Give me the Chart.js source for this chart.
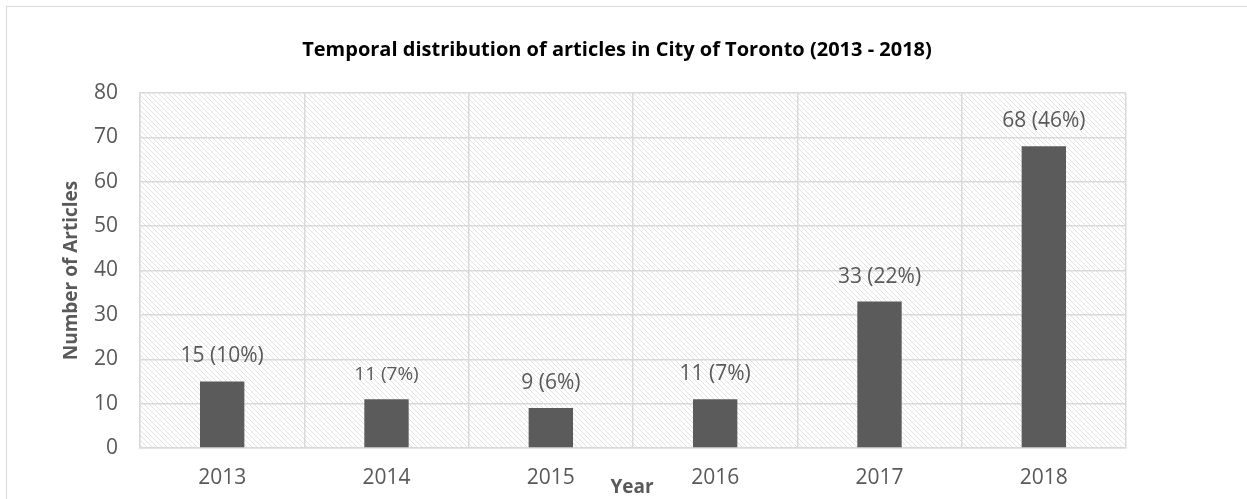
<!DOCTYPE html>
<html>
<head>
<meta charset="utf-8">
<title>Temporal distribution of articles</title>
<script src="https://cdn.jsdelivr.net/npm/chart.js@4/dist/chart.umd.min.js"></script>
<style>
  html, body { margin: 0; padding: 0; background: #fff; overflow: hidden; }
  #wrap { position: relative; width: 1247px; height: 499px; }
  #frame { position: absolute; left: 6px; top: 6px; width: 1260px; height: 520px; border: 1px solid #d9d9d9; box-sizing: border-box; }
  canvas { position: absolute; left: 0; top: 0; }
</style>
</head>
<body>
<div id="wrap">
  <div id="frame"></div>
  <canvas id="chartCanvas" width="1247" height="499"></canvas>
</div>
<script>
// data
const years = ['2013', '2014', '2015', '2016', '2017', '2018'];
const articles = [15, 11, 9, 11, 33, 68];
const yTicks = [0, 10, 20, 30, 40, 50, 60, 70, 80];

const titleText = 'Temporal distribution of articles in City of Toronto (2013 - 2018)';
const FONT = '"Open Sans", "Liberation Sans", sans-serif';
const GRID = '#d9d9d9';
const TEXT = '#595959';

const total = articles.reduce((a, b) => a + b, 0);

// diagonal hatch for the plot background
function makeHatch(){
  const c = document.createElement('canvas');
  c.width = 5; c.height = 5;
  const g = c.getContext('2d');
  g.fillStyle = '#fff';
  g.fillRect(0, 0, 5, 5);
  g.strokeStyle = '#e2e2e2';
  g.lineWidth = 1;
  g.beginPath();
  g.moveTo(-1, -1); g.lineTo(6, 6);
  g.moveTo(-1, 4); g.lineTo(1, 6);
  g.moveTo(4, -1); g.lineTo(6, 1);
  g.stroke();
  return g.createPattern(c, 'repeat');
}

const hatchPlugin = {
  id: 'hatch',
  beforeDraw(chart){
    const {ctx, chartArea: a} = chart;
    ctx.save();
    ctx.fillStyle = makeHatch();
    ctx.fillRect(a.left, a.top, a.right - a.left, a.bottom - a.top);
    ctx.restore();
  }
};

// value labels above bars + titles
const textPlugin = {
  id: 'texts',
  afterDatasetsDraw(chart){
    const ctx = chart.ctx;
    const meta = chart.getDatasetMeta(0);
    ctx.save();
    ctx.fillStyle = TEXT;
    ctx.textAlign = 'center';
    ctx.textBaseline = 'middle';
    meta.data.forEach((bar, i) => {
      const v = articles[i];
      const pct = Math.round(v / total * 100);
      const size = i === 1 ? 19 : 21;
      ctx.font = `${size}px ${FONT}`;
      ctx.fillText(`${v} (${pct}%)`, bar.x, bar.y - 25);
    });

    const a = chart.chartArea;
    ctx.fillStyle = '#000';
    ctx.font = `bold 20px ${FONT}`;
    ctx.fillText(titleText, 617, 50);

    ctx.fillStyle = TEXT;
    ctx.font = `bold 19px ${FONT}`;
    ctx.fillText('Year', 632, 488);

    ctx.translate(72, (a.top + a.bottom) / 2);
    ctx.rotate(-Math.PI / 2);
    ctx.fillText('Number of Articles', 0, 0);
    ctx.restore();
  }
};

const ctx = document.getElementById('chartCanvas').getContext('2d');
const chart = new Chart(ctx, {
  type: 'bar',
  data: {
    labels: years,
    datasets: [{
      label: 'Number of Articles',
      data: articles,
      backgroundColor: '#5b5b5b',
      borderWidth: 0,
      categoryPercentage: 1,
      barPercentage: 0.27
    }]
  },
  options: {
    responsive: false,
    animation: false,
    events: [],
    layout: { padding: { left: 0, top: 93, right: 121, bottom: 0 } },
    plugins: {
      legend: { display: false },
      title: { display: false },
      tooltip: { enabled: false }
    },
    scales: {
      x: {
        afterFit(s){ s.height = 51; },
        grid: { color: GRID, lineWidth: 1.5, drawTicks: false, offset: true },
        border: { color: GRID, width: 1.5 },
        ticks: { color: TEXT, font: { family: FONT, size: 21 }, padding: 17 }
      },
      y: {
        min: 0, max: 80,
        afterFit(s){ s.width = 140; },
        afterBuildTicks(s){ s.ticks = yTicks.map(v => ({ value: v })); },
        grid: { color: GRID, lineWidth: 1.5, drawTicks: false },
        border: { color: GRID, width: 1.5 },
        ticks: { color: TEXT, font: { family: FONT, size: 21 }, padding: 22 }
      }
    }
  },
  plugins: [hatchPlugin, textPlugin]
});
</script>
</body>
</html>
